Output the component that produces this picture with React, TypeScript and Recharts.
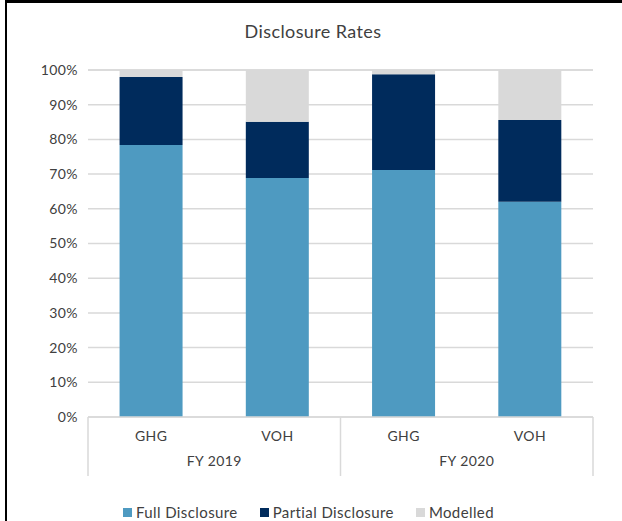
import React from 'react';
import { BarChart, Bar, XAxis, YAxis, CartesianGrid, Legend } from 'recharts';

// Disclosure rates by metric and fiscal year (percent of total)
const metrics = ['GHG', 'VOH', 'GHG', 'VOH'];
const years = ['FY 2019', 'FY 2019', 'FY 2020', 'FY 2020'];
const fullDisclosure = [78.4, 68.9, 71.2, 62.0];
const partialDisclosure = [19.6, 16.2, 27.6, 23.6];
const modelled = [2.0, 14.9, 1.2, 14.4];
const yTicks = [0, 10, 20, 30, 40, 50, 60, 70, 80, 90, 100];
const groupLabels = ['FY 2019', 'FY 2020'];

const seriesNames = ['Full Disclosure', 'Partial Disclosure', 'Modelled'];
const seriesColors = ['#4E9AC1', '#002B5C', '#D9D9D9'];

const data = metrics.map((m, i) => ({
  metric: m,
  year: years[i],
  pos: i + 0.5,
  full: fullDisclosure[i],
  partial: partialDisclosure[i],
  modelled: modelled[i],
}));

const FONT = 'Lato, "DejaVu Sans", sans-serif';
const TEXT = '#404040';
const GRID = '#D9D9D9';
const SPACING = 0.4;

// Group axis: even positions are separators, odd positions carry the year label
const GroupTick = (props: any) => {
  const { x, y, payload } = props;
  const v = payload.value as number;
  if (v % 2 === 0) {
    return <line x1={x} x2={x} y1={y - 29} y2={y + 30} stroke={GRID} strokeWidth={1.5} />;
  }
  return (
    <text x={x} y={y + 20} textAnchor="middle" fill={TEXT} fontSize={14} fontFamily={FONT} letterSpacing={SPACING}>
      {groupLabels[(v - 1) / 2]}
    </text>
  );
};

const LegendContent = () => (
  <div
    style={{
      height: 45,
      display: 'flex',
      justifyContent: 'center',
      alignItems: 'flex-end',
      fontFamily: FONT,
      fontSize: 15,
      letterSpacing: SPACING,
      color: TEXT,
      paddingLeft: 24,
      boxSizing: 'border-box',
    }}
  >
    {seriesNames.map((n, i) => (
      <div key={n} style={{ display: 'flex', alignItems: 'center', marginRight: i < 2 ? 22 : 0, lineHeight: '18px' }}>
        <span style={{ width: 9, height: 9, background: seriesColors[i], display: 'inline-block', marginRight: 4 }} />
        <span>{n}</span>
      </div>
    ))}
  </div>
);

export default function App() {
  return (
    <div style={{ position: 'fixed', left: 0, top: 0, width: 622, height: 521, background: '#fff' }}>
      <div
        style={{
          position: 'absolute',
          left: 0,
          top: 20,
          width: 622,
          textAlign: 'center',
          fontFamily: FONT,
          fontSize: 18,
          letterSpacing: SPACING,
          color: TEXT,
          paddingLeft: 4,
          boxSizing: 'border-box',
        }}
      >
        Disclosure Rates
      </div>
      <BarChart
        width={622}
        height={521}
        data={data}
        margin={{ top: 70, right: 29, bottom: 0, left: 0 }}
        barCategoryGap="25%"
      >
        <CartesianGrid vertical={false} stroke={GRID} strokeWidth={1.5} />
        <YAxis
          width={88}
          domain={[0, 100]}
          ticks={yTicks}
          tickFormatter={(v: number) => `${v}%`}
          axisLine={false}
          tickLine={false}
          tickSize={6}
          tickMargin={4}
          tick={{ fill: TEXT, fontSize: 14, fontFamily: FONT, letterSpacing: SPACING }}
          interval={0}
        />
        <XAxis
          dataKey="metric"
          height={29}
          axisLine={{ stroke: GRID, strokeWidth: 1.5 }}
          tickLine={false}
          tick={{ fill: TEXT, fontSize: 14, fontFamily: FONT, letterSpacing: SPACING }}
          tickMargin={8}
          interval={0}
        />
        <XAxis
          xAxisId="group"
          type="number"
          dataKey="pos"
          domain={[0, 4]}
          ticks={[0, 1, 2, 3, 4]}
          height={30}
          axisLine={false}
          tickLine={false}
          tickSize={0}
          tickMargin={0}
          interval={0}
          tick={<GroupTick />}
        />
        <Legend content={<LegendContent />} verticalAlign="bottom" height={45} />
        <Bar dataKey="full" name={seriesNames[0]} stackId="a" fill={seriesColors[0]} isAnimationActive={false} />
        <Bar dataKey="partial" name={seriesNames[1]} stackId="a" fill={seriesColors[1]} isAnimationActive={false} />
        <Bar dataKey="modelled" name={seriesNames[2]} stackId="a" fill={seriesColors[2]} isAnimationActive={false} />
      </BarChart>
      <div
        style={{
          position: 'absolute',
          left: 5,
          top: 0,
          width: 617,
          height: 521,
          borderTop: '3px solid #000',
          borderLeft: '2px solid #000',
          boxSizing: 'border-box',
          pointerEvents: 'none',
        }}
      />
    </div>
  );
}
